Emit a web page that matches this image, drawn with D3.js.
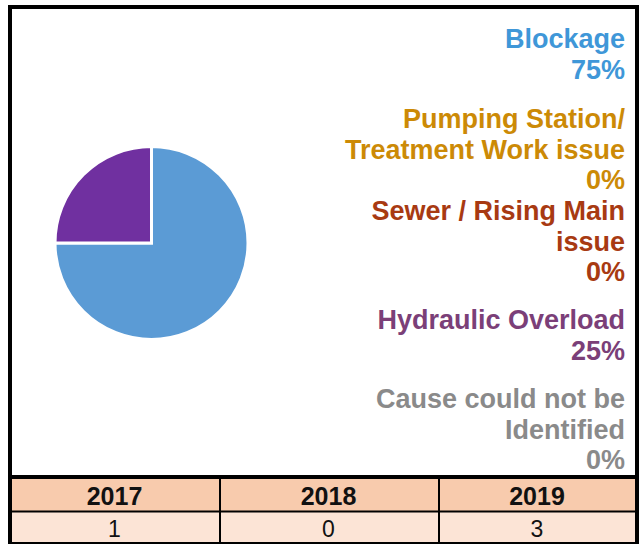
<!DOCTYPE html>
<html>
<head>
<meta charset="utf-8">
<script src="https://cdn.jsdelivr.net/npm/d3@7"></script>
<style>
  html, body { margin: 0; padding: 0; background: #fff; }
  svg { display: block; }
</style>
</head>
<body>
<svg id="chart" width="640" height="544"></svg>
<script>
// ---- data ----
const categories = ["Blockage", "Pumping Station/ Treatment Work issue", "Sewer / Rising Main issue", "Hydraulic Overload", "Cause could not be Identified"];
const labelLines = [["Blockage"], ["Pumping Station/", "Treatment Work issue"], ["Sewer / Rising Main", "issue"], ["Hydraulic Overload"], ["Cause could not be", "Identified"]];
const percentages = [75, 0, 0, 25, 0];
const pieColors = ["#5B9BD5", "#ED7D31", "#C55A11", "#7030A0", "#A5A5A5"];
const textColors = ["#3F97D8", "#CC8A06", "#A83A12", "#7B3F78", "#8A8A8A"];
const years = ["2017", "2018", "2019"];
const yearCounts = [1, 0, 3];

// ---- layout ----
const W = 640, H = 544;
const groupBaselines = [48, 128, 220, 329, 408];
const lineGap = 30.7;
const textRight = 625;
const pieCx = 151.5, pieCy = 243, pieR = 96.5;
const columnEdges = [11, 220, 439, 637];

const svg = d3.select("#chart");
svg.append("rect").attr("width", W).attr("height", H).attr("fill", "#fff");

// pie
const pie = d3.pie().sort(null).value(d => d)(percentages);
const arc = d3.arc().innerRadius(0).outerRadius(pieR);
svg.append("g").attr("transform", `translate(${pieCx},${pieCy})`)
  .selectAll("path").data(pie.filter(d => d.value > 0)).join("path")
  .attr("d", arc)
  .attr("fill", d => pieColors[d.index])
  .attr("stroke", "#fff").attr("stroke-width", 3).attr("stroke-linejoin", "miter");

// legend labels
const lg = svg.append("g")
  .attr("font-family", "'Liberation Sans', Arial, sans-serif")
  .attr("font-weight", "bold").attr("font-size", 27)
  .attr("text-anchor", "end");
categories.forEach((c, i) => {
  const lines = labelLines[i].concat([percentages[i] + "%"]);
  lines.forEach((t, j) => {
    lg.append("text").attr("x", textRight).attr("y", groupBaselines[i] + j * lineGap)
      .attr("fill", textColors[i]).text(t);
  });
});

// table
const xL = d3.scaleOrdinal().domain(years).range(columnEdges.slice(0, 3));
const xR = d3.scaleOrdinal().domain(years).range(columnEdges.slice(1));
const mid = d => (xL(d) + xR(d)) / 2;
const tableTop = 477, headerBottom = 511.5, tableBottom = 543;
const tg = svg.append("g");
tg.selectAll("rect.h").data(years).join("rect").attr("class", "h")
  .attr("x", d => xL(d)).attr("y", tableTop).attr("width", d => xR(d) - xL(d)).attr("height", headerBottom - tableTop)
  .attr("fill", "#F8CBAD");
tg.selectAll("rect.v").data(years).join("rect").attr("class", "v")
  .attr("x", d => xL(d)).attr("y", headerBottom).attr("width", d => xR(d) - xL(d)).attr("height", tableBottom - headerBottom)
  .attr("fill", "#FCE4D6");
tg.selectAll("text.h").data(years).join("text").attr("class", "h")
  .attr("x", d => mid(d) - 1).attr("y", 505)
  .attr("text-anchor", "middle").attr("font-family", "'Liberation Sans', Arial, sans-serif")
  .attr("font-weight", "bold").attr("font-size", 25).attr("fill", "#111").text(d => d);
tg.selectAll("text.v").data(years).join("text").attr("class", "v")
  .attr("x", d => mid(d) - 1).attr("y", 536.5)
  .attr("text-anchor", "middle").attr("font-family", "'Liberation Sans', Arial, sans-serif")
  .attr("font-size", 23).attr("fill", "#111").text((d, i) => yearCounts[i]);

// grid lines / frame
const ln = (x1, y1, x2, y2, w) => svg.append("line").attr("x1", x1).attr("y1", y1).attr("x2", x2).attr("y2", y2)
  .attr("stroke", "#000").attr("stroke-width", w);
years.slice(1).forEach(y => ln(xL(y), tableTop, xL(y), tableBottom, 2));
ln(8, headerBottom, 639, headerBottom, 2);
ln(8, tableBottom, 639, tableBottom, 2);
ln(8, 477, 639, 477, 4);
ln(8, 7, 639, 7, 4);
ln(10, 5, 10, 544, 4);
ln(637, 5, 637, 544, 4);
</script>
</body>
</html>
